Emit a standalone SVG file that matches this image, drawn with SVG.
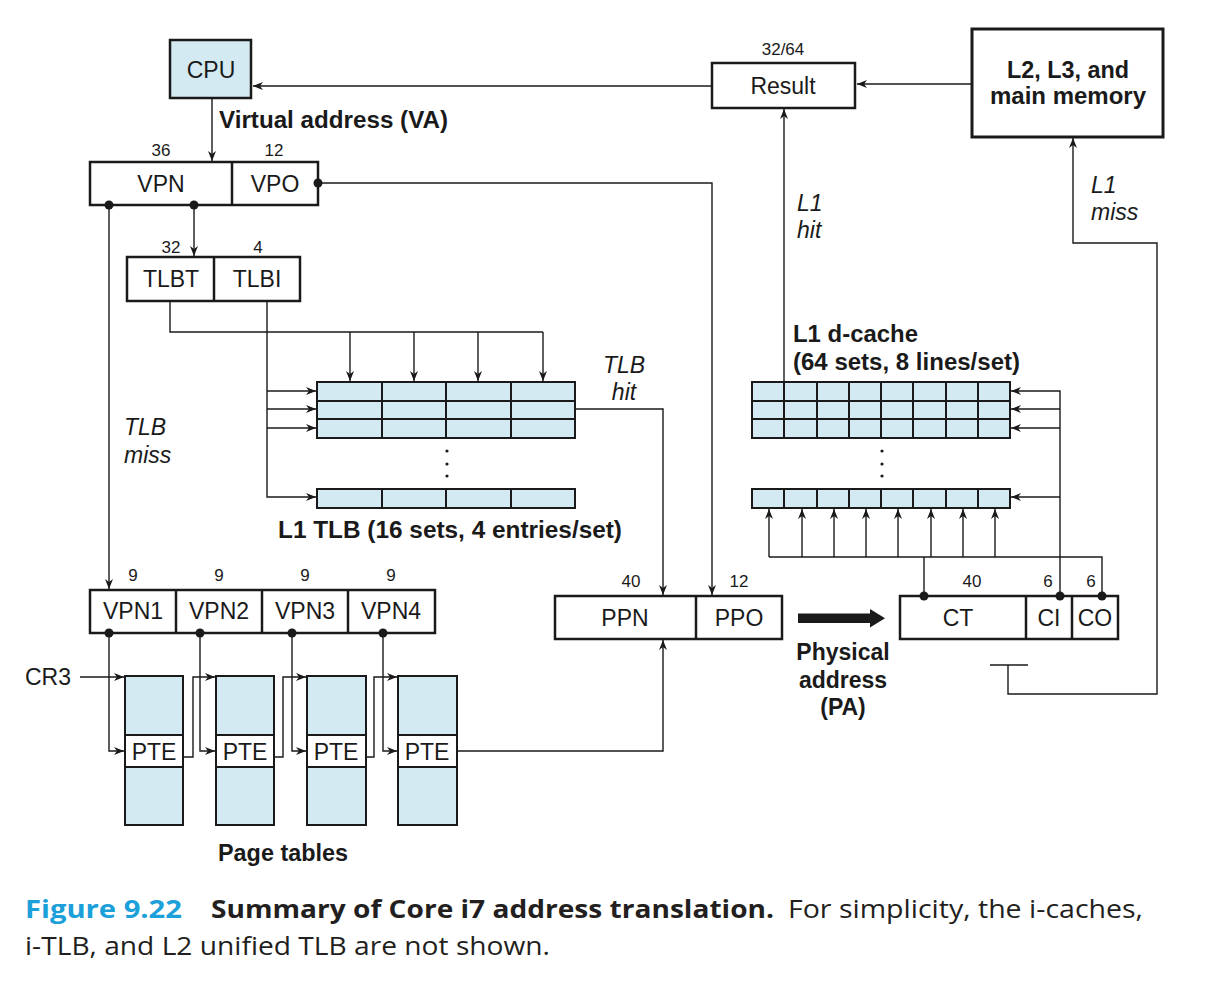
<svg xmlns="http://www.w3.org/2000/svg" width="1214" height="982" viewBox="0 0 1214 982">
<defs>
<marker id="ah" markerUnits="userSpaceOnUse" markerWidth="11" markerHeight="8" refX="10" refY="4" orient="auto">
<path d="M0,0 L10,4 L0,8 L3,4 z" fill="#1a1a1a"/>
</marker>
<style>
.bx{fill:#fff;stroke:#1a1a1a;stroke-width:2.5}
.bl{fill:#d4eaf2;stroke:#1a1a1a;stroke-width:2.5}
.cell{fill:#d4eaf2;stroke:#1a1a1a;stroke-width:2}
.ln{fill:none;stroke:#1a1a1a;stroke-width:1.4}
.ar{fill:none;stroke:#1a1a1a;stroke-width:1.4;marker-end:url(#ah)}
.t{font-family:"Liberation Sans",Arial,sans-serif;font-size:23px;fill:#1a1a1a;text-anchor:middle;dominant-baseline:central}
.n{font-family:"Liberation Sans",Arial,sans-serif;font-size:17px;fill:#1a1a1a;text-anchor:middle;dominant-baseline:central}
.b{font-family:"Liberation Sans",Arial,sans-serif;font-size:23px;font-weight:bold;fill:#1a1a1a;dominant-baseline:central}
.i{font-family:"Liberation Sans",Arial,sans-serif;font-size:23px;font-style:italic;fill:#1a1a1a;dominant-baseline:central}
.cap{font-family:"Open Sans","Noto Sans",sans-serif;font-size:25px;fill:#231f20}
.dot{fill:#1a1a1a}
</style>
</defs>
<rect width="1214" height="982" fill="#fff"/>

<g id="connectors">
<line class="ar" x1="712" y1="86" x2="253" y2="86"/>
<line class="ar" x1="972" y1="84" x2="857" y2="84"/>
<line class="ar" x1="212" y1="98" x2="212" y2="161"/>
<line class="ar" x1="194" y1="205" x2="194" y2="256"/>
<polyline class="ar" points="318,183 712,183 712,595"/>
<line class="ar" x1="109" y1="205" x2="109" y2="589"/>
<polyline class="ln" points="170,301 170,332 543,332"/>
<line class="ar" x1="350" y1="332" x2="350" y2="381"/>
<line class="ar" x1="414" y1="332" x2="414" y2="381"/>
<line class="ar" x1="478" y1="332" x2="478" y2="381"/>
<line class="ar" x1="543" y1="332" x2="543" y2="381"/>
<polyline class="ar" points="267,301 267,497 316,497"/>
<line class="ar" x1="267" y1="391" x2="316" y2="391"/>
<line class="ar" x1="267" y1="409" x2="316" y2="409"/>
<line class="ar" x1="267" y1="428" x2="316" y2="428"/>
<polyline class="ar" points="575,409 663,409 663,595"/>
<polyline class="ar" points="457,751 663,751 663,640"/>
<line class="ar" x1="784" y1="382" x2="784" y2="109"/>
<line class="ln" x1="924" y1="596" x2="924" y2="557"/>
<polyline class="ln" points="769,557 1102,557 1102,596"/>
<line class="ar" x1="769" y1="557" x2="769" y2="509"/>
<line class="ar" x1="802" y1="557" x2="802" y2="509"/>
<line class="ar" x1="834" y1="557" x2="834" y2="509"/>
<line class="ar" x1="866" y1="557" x2="866" y2="509"/>
<line class="ar" x1="898" y1="557" x2="898" y2="509"/>
<line class="ar" x1="931" y1="557" x2="931" y2="509"/>
<line class="ar" x1="963" y1="557" x2="963" y2="509"/>
<line class="ar" x1="995" y1="557" x2="995" y2="509"/>
<polyline class="ar" points="1060,596 1060,391 1011,391"/>
<line class="ar" x1="1060" y1="409" x2="1011" y2="409"/>
<line class="ar" x1="1060" y1="428" x2="1011" y2="428"/>
<line class="ar" x1="1060" y1="497" x2="1011" y2="497"/>
<line class="ln" x1="990" y1="665" x2="1028" y2="665"/>
<polyline class="ar" points="1008,665 1008,694 1157,694 1157,243 1073,243 1073,138"/>
<line class="ar" x1="80" y1="677" x2="124" y2="677"/>
<polyline class="ar" points="109,633 109,751 124,751"/>
<polyline class="ar" points="200,633 200,751 215,751"/>
<polyline class="ar" points="292,633 292,751 306,751"/>
<polyline class="ar" points="383,633 383,751 397,751"/>
<polyline class="ar" points="183,757 193,757 193,677 215,677"/>
<polyline class="ar" points="274,757 283,757 283,677 306,677"/>
<polyline class="ar" points="366,757 374,757 374,677 397,677"/>
<rect x="798" y="613.5" width="74" height="9.5" fill="#1a1a1a"/>
<path d="M870,609 L885,618.25 L870,627.5 z" fill="#1a1a1a"/>
</g>

<g id="cpu">
<rect class="bl" x="170" y="40" width="81" height="58"/>
<text class="t" x="211" y="70">CPU</text>
</g>
<text class="b" x="219" y="120" textLength="229" lengthAdjust="spacingAndGlyphs">Virtual address (VA)</text>

<g id="result">
<text class="n" x="783" y="49">32/64</text>
<rect class="bx" x="712" y="63" width="143" height="45"/>
<text class="t" x="783" y="86">Result</text>
</g>

<g id="memory">
<rect class="bx" x="972" y="29" width="191" height="108" style="stroke-width:3"/>
<text class="b" x="1068" y="70" text-anchor="middle" textLength="122" lengthAdjust="spacingAndGlyphs">L2, L3, and</text>
<text class="b" x="1068" y="96" text-anchor="middle" textLength="156" lengthAdjust="spacingAndGlyphs">main memory</text>
</g>

<g id="va">
<text class="n" x="161" y="150">36</text>
<text class="n" x="274" y="150">12</text>
<rect class="bx" x="90" y="162" width="228" height="43"/>
<line class="ln" x1="232" y1="162" x2="232" y2="205" style="stroke-width:2.5"/>
<text class="t" x="161" y="184">VPN</text>
<text class="t" x="275" y="184">VPO</text>
<circle class="dot" cx="109" cy="205" r="4.5"/>
<circle class="dot" cx="194" cy="205" r="4.5"/>
<circle class="dot" cx="318" cy="183" r="4.5"/>
</g>

<g id="tlbaddr">
<text class="n" x="171" y="247">32</text>
<text class="n" x="258" y="247">4</text>
<rect class="bx" x="127" y="257" width="173" height="44"/>
<line class="ln" x1="214" y1="257" x2="214" y2="301" style="stroke-width:2.5"/>
<text class="t" x="171" y="279">TLBT</text>
<text class="t" x="257" y="279">TLBI</text>
</g>

<g id="tlb">
<g class="cell">
<rect x="317" y="382" width="65" height="19"/><rect x="382" y="382" width="64" height="19"/><rect x="446" y="382" width="65" height="19"/><rect x="511" y="382" width="64" height="19"/>
<rect x="317" y="401" width="65" height="18"/><rect x="382" y="401" width="64" height="18"/><rect x="446" y="401" width="65" height="18"/><rect x="511" y="401" width="64" height="18"/>
<rect x="317" y="419" width="65" height="19"/><rect x="382" y="419" width="64" height="19"/><rect x="446" y="419" width="65" height="19"/><rect x="511" y="419" width="64" height="19"/>
<rect x="317" y="489" width="65" height="19"/><rect x="382" y="489" width="64" height="19"/><rect x="446" y="489" width="65" height="19"/><rect x="511" y="489" width="64" height="19"/>
</g>
<circle class="dot" cx="447" cy="451" r="1.6"/>
<circle class="dot" cx="447" cy="464" r="1.6"/>
<circle class="dot" cx="447" cy="476" r="1.6"/>
<text class="b" x="278" y="530" textLength="344" lengthAdjust="spacingAndGlyphs">L1 TLB (16 sets, 4 entries/set)</text>
</g>

<text class="i" x="624" y="365" text-anchor="middle">TLB</text>
<text class="i" x="624" y="392" text-anchor="middle">hit</text>
<text class="i" x="124" y="427">TLB</text>
<text class="i" x="124" y="455">miss</text>
<text class="i" x="797" y="203">L1</text>
<text class="i" x="797" y="230">hit</text>
<text class="i" x="1091" y="185">L1</text>
<text class="i" x="1091" y="212">miss</text>

<g id="dcache">
<text class="b" x="793" y="334" textLength="125" lengthAdjust="spacingAndGlyphs">L1 d-cache</text>
<text class="b" x="793" y="362" textLength="227" lengthAdjust="spacingAndGlyphs">(64 sets, 8 lines/set)</text>
<g class="cell">
<rect x="752" y="382" width="32" height="19"/><rect x="784" y="382" width="33" height="19"/><rect x="817" y="382" width="32" height="19"/><rect x="849" y="382" width="32" height="19"/><rect x="881" y="382" width="32" height="19"/><rect x="913" y="382" width="33" height="19"/><rect x="946" y="382" width="32" height="19"/><rect x="978" y="382" width="32" height="19"/>
<rect x="752" y="401" width="32" height="18"/><rect x="784" y="401" width="33" height="18"/><rect x="817" y="401" width="32" height="18"/><rect x="849" y="401" width="32" height="18"/><rect x="881" y="401" width="32" height="18"/><rect x="913" y="401" width="33" height="18"/><rect x="946" y="401" width="32" height="18"/><rect x="978" y="401" width="32" height="18"/>
<rect x="752" y="419" width="32" height="19"/><rect x="784" y="419" width="33" height="19"/><rect x="817" y="419" width="32" height="19"/><rect x="849" y="419" width="32" height="19"/><rect x="881" y="419" width="32" height="19"/><rect x="913" y="419" width="33" height="19"/><rect x="946" y="419" width="32" height="19"/><rect x="978" y="419" width="32" height="19"/>
<rect x="752" y="489" width="32" height="19"/><rect x="784" y="489" width="33" height="19"/><rect x="817" y="489" width="32" height="19"/><rect x="849" y="489" width="32" height="19"/><rect x="881" y="489" width="32" height="19"/><rect x="913" y="489" width="33" height="19"/><rect x="946" y="489" width="32" height="19"/><rect x="978" y="489" width="32" height="19"/>
</g>
<circle class="dot" cx="882" cy="451" r="1.6"/>
<circle class="dot" cx="882" cy="464" r="1.6"/>
<circle class="dot" cx="882" cy="476" r="1.6"/>
</g>

<g id="vpnparts">
<text class="n" x="133" y="575">9</text>
<text class="n" x="219" y="575">9</text>
<text class="n" x="305" y="575">9</text>
<text class="n" x="391" y="575">9</text>
<rect class="bx" x="90" y="590" width="345" height="43"/>
<line class="ln" x1="176" y1="590" x2="176" y2="633" style="stroke-width:2.5"/>
<line class="ln" x1="262" y1="590" x2="262" y2="633" style="stroke-width:2.5"/>
<line class="ln" x1="348" y1="590" x2="348" y2="633" style="stroke-width:2.5"/>
<text class="t" x="133" y="611">VPN1</text>
<text class="t" x="219" y="611">VPN2</text>
<text class="t" x="305" y="611">VPN3</text>
<text class="t" x="391" y="611">VPN4</text>
<circle class="dot" cx="109" cy="633" r="4.5"/>
<circle class="dot" cx="200" cy="633" r="4.5"/>
<circle class="dot" cx="292" cy="633" r="4.5"/>
<circle class="dot" cx="383" cy="633" r="4.5"/>
</g>

<text class="t" x="25" y="677" style="text-anchor:start">CR3</text>

<g id="pagetables">
<rect class="cell" x="125" y="676" width="58" height="149"/>
<rect class="bx" x="125" y="735" width="58" height="32" style="stroke-width:2"/>
<text class="t" x="154" y="752">PTE</text>
<rect class="cell" x="216" y="676" width="58" height="149"/>
<rect class="bx" x="216" y="735" width="58" height="32" style="stroke-width:2"/>
<text class="t" x="245" y="752">PTE</text>
<rect class="cell" x="307" y="676" width="59" height="149"/>
<rect class="bx" x="307" y="735" width="59" height="32" style="stroke-width:2"/>
<text class="t" x="336" y="752">PTE</text>
<rect class="cell" x="398" y="676" width="59" height="149"/>
<rect class="bx" x="398" y="735" width="59" height="32" style="stroke-width:2"/>
<text class="t" x="427" y="752">PTE</text>
<text class="b" x="283" y="853" text-anchor="middle" textLength="130" lengthAdjust="spacingAndGlyphs">Page tables</text>
</g>

<g id="pa">
<text class="n" x="631" y="581">40</text>
<text class="n" x="739" y="581">12</text>
<rect class="bx" x="555" y="596" width="227" height="43"/>
<line class="ln" x1="696" y1="596" x2="696" y2="639" style="stroke-width:2.5"/>
<text class="t" x="625" y="618">PPN</text>
<text class="t" x="739" y="618">PPO</text>
</g>

<g id="palabel">
<text class="b" x="843" y="652" text-anchor="middle">Physical</text>
<text class="b" x="843" y="680" text-anchor="middle">address</text>
<text class="b" x="843" y="707" text-anchor="middle">(PA)</text>
</g>

<g id="cacheaddr">
<text class="n" x="972" y="581">40</text>
<text class="n" x="1048" y="581">6</text>
<text class="n" x="1091" y="581">6</text>
<rect class="bx" x="900" y="596" width="218" height="43"/>
<line class="ln" x1="1026" y1="596" x2="1026" y2="639" style="stroke-width:2.5"/>
<line class="ln" x1="1072" y1="596" x2="1072" y2="639" style="stroke-width:2.5"/>
<text class="t" x="958" y="618">CT</text>
<text class="t" x="1049" y="618">CI</text>
<text class="t" x="1095" y="618">CO</text>
<circle class="dot" cx="924" cy="596" r="4.5"/>
<circle class="dot" cx="1060" cy="596" r="4.5"/>
<circle class="dot" cx="1102" cy="596" r="4.5"/>
</g>

<g id="caption">
<text class="cap" x="25" y="918" font-weight="bold" fill="#1ba0da" style="fill:#1ba0da" textLength="157" lengthAdjust="spacingAndGlyphs">Figure 9.22</text>
<text class="cap" x="211" y="918" font-weight="bold" textLength="563" lengthAdjust="spacingAndGlyphs">Summary of Core i7 address translation.</text>
<text class="cap" x="788" y="918" textLength="355" lengthAdjust="spacingAndGlyphs">For simplicity, the i-caches,</text>
<text class="cap" x="25" y="955" textLength="525" lengthAdjust="spacingAndGlyphs">i-TLB, and L2 unified TLB are not shown.</text>
</g>
</svg>
